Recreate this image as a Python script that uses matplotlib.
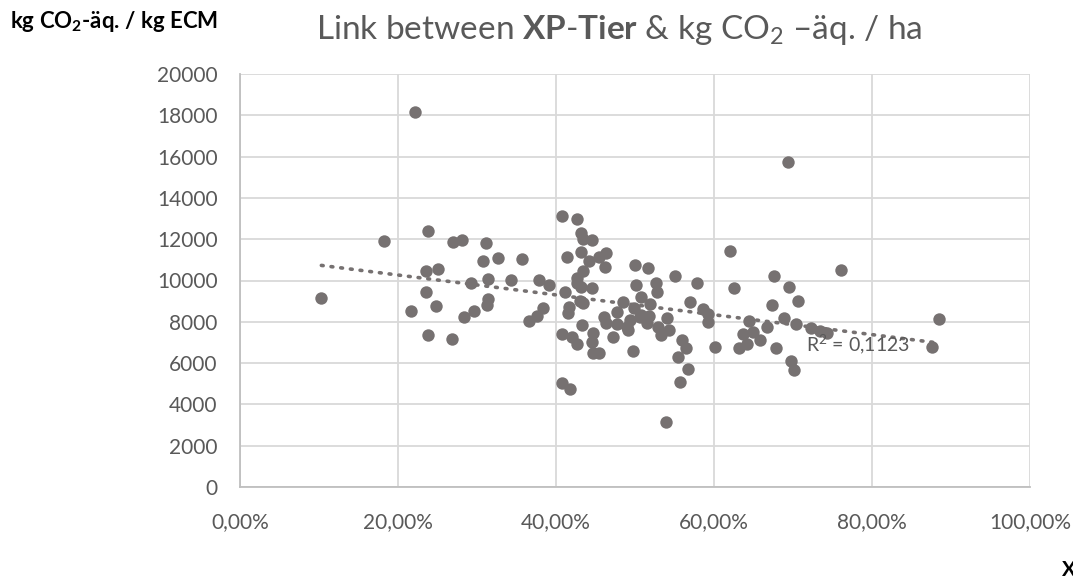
import numpy as np
import matplotlib
matplotlib.use("Agg")
import matplotlib.pyplot as plt
from matplotlib.ticker import FuncFormatter

# XP-Tier share (%) and kg CO2-eq per ha
xp_share = [
    10.3, 18.2, 22.2, 21.6, 23.8, 23.5, 25.0, 23.5, 24.8, 23.8,
    26.8, 27.0, 28.1, 28.4, 29.3, 29.6, 31.1, 30.7, 32.6, 35.7,
    31.4, 34.3, 37.8, 39.1, 31.4, 31.3, 36.6, 37.6, 38.4,
    40.7, 42.7, 43.2, 43.4, 44.5, 41.4, 43.2, 44.2, 45.4, 46.3,
    46.2, 43.4, 42.6, 42.6, 43.2, 44.5, 41.1, 41.6, 41.5, 43.0,
    43.4, 43.3, 40.8, 42.0, 42.7, 44.7, 44.6, 44.7, 45.4, 40.7,
    41.8, 47.2, 46.1, 46.3, 47.7, 48.5, 49.0, 49.4, 50.0, 50.1,
    50.8, 51.6, 49.9, 50.8, 51.9, 52.7, 52.8, 51.8, 52.9, 53.3,
    49.8, 54.0, 54.3, 53.9, 47.7, 50.6, 51.5, 49.1,
    55.1, 56.0, 56.5, 55.5, 56.7, 55.7, 57.0, 57.8, 58.6, 59.2,
    59.2, 60.1, 62.0, 62.5, 64.4, 63.7, 64.2, 64.9, 65.8, 66.7,
    63.2, 67.6, 67.3, 67.9, 68.8, 69.5, 70.4, 69.7, 70.1, 70.6,
    69.4, 76.1, 72.3, 73.4, 74.3, 87.6, 88.5,
]
co2_per_ha = [
    9140, 11920, 18180, 8520, 12380, 10450, 10580, 9430, 8760, 7360,
    7160, 11880, 11960, 8230, 9860, 8530, 11840, 10950, 11070, 11020,
    10070, 10040, 10040, 9780, 9080, 8800, 8020, 8280, 8660,
    13120, 12970, 12310, 11990, 11950, 11120, 11390, 10950, 11150, 11340,
    10660, 10470, 10100, 9860, 9690, 9650, 9420, 8730, 8440, 9020,
    8890, 7840, 7420, 7270, 6920, 7470, 7000, 6500, 6500, 5060,
    4750, 7240, 8240, 7920, 8480, 8970, 7760, 8080, 10760, 9780,
    9180, 10610, 8650, 8320, 8880, 9860, 9450, 8300, 7760, 7380,
    6590, 8180, 7600, 3160, 7910, 8240, 7920, 7600,
    10230, 7110, 6710, 6280, 5720, 5090, 8970, 9900, 8600, 8380,
    8000, 6800, 11430, 9650, 8060, 7420, 6940, 7520, 7110, 7740,
    6720, 10220, 8810, 6750, 8170, 9670, 7880, 6110, 5670, 8990,
    15730, 10500, 7680, 7570, 7440, 6790, 8150,
]
r2_label = "R$^2$ = 0,1123"

dot_color = "#767171"
text_gray = "#595959"
grid_gray = "#d9d9d9"

plt.rcParams["font.family"] = ["Lato", "DejaVu Sans"]
plt.rcParams["mathtext.fontset"] = "custom"
plt.rcParams["mathtext.rm"] = "Lato"
plt.rcParams["mathtext.bf"] = "Lato:bold"

fig = plt.figure(figsize=(10.73, 5.83), dpi=100)
ax = fig.add_axes([240 / 1073, 1 - 487 / 583, 790 / 1073, 413 / 583])

x = np.array(xp_share) / 100
y = np.array(co2_per_ha)
ax.scatter(x, y, s=80, color=dot_color, zorder=3, linewidths=0)

# linear trend line over the data range
k, d = np.polyfit(x, y, 1)
xs = np.array([x.min(), x.max()])
ax.plot(xs, k * xs + d, color=dot_color, lw=2.6, linestyle=(0, (0.5, 2.2)),
        dash_capstyle="round", zorder=4)

ax.text(0.716, 6870, r2_label, color=text_gray, fontsize=14, ha="left",
        va="center", zorder=5)

ax.set_xlim(0, 1)
ax.set_ylim(0, 20000)
ax.set_xticks(np.arange(0, 1.01, 0.2))
ax.set_yticks(np.arange(0, 20001, 2000))
ax.xaxis.set_major_formatter(FuncFormatter(lambda v, p: f"{v * 100:.2f}%".replace(".", ",")))
ax.grid(True, color=grid_gray, lw=1.3, zorder=0)
ax.tick_params(length=0, labelsize=15, colors=text_gray)
ax.tick_params(axis="y", pad=16)
ax.tick_params(axis="x", pad=18)
for side in ["top", "right"]:
    ax.spines[side].set_visible(False)
for side in ["left", "bottom"]:
    ax.spines[side].set_color("#bfbfbf")
    ax.spines[side].set_linewidth(1.3)

fig.text(619 / 1073, 1 - 30 / 583,
         r"Link between $\mathbf{XP}$-$\mathbf{Tier}$ & kg CO$_2$ –äq. / ha",
         ha="center", va="center", fontsize=24, color=text_gray)
fig.text(10 / 1073, 1 - 22 / 583, r"kg CO$_\mathbf{2}$-äq. / kg ECM",
         ha="left", va="center", fontsize=16, fontweight="bold", color="black")
fig.text(1062 / 1073, 1 - 570 / 583, "XP-Tier", ha="left", va="center",
         fontsize=15, fontweight="bold", color="black")

fig.savefig("out.png", dpi=100)
